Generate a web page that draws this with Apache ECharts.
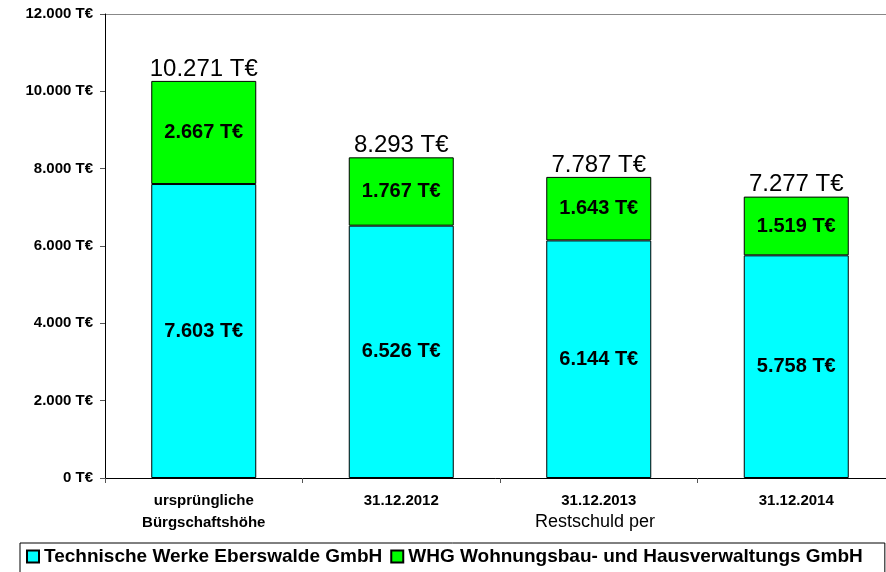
<!DOCTYPE html>
<html>
<head>
<meta charset="utf-8">
<script src="https://cdn.jsdelivr.net/npm/echarts@6/dist/echarts.min.js"></script>
<style>
  html, body { margin: 0; padding: 0; background: #fff; }
  #chart { width: 886px; height: 572px; }
</style>
</head>
<body>
<div id="chart"></div>
<script>
var categories = ['ursprüngliche\nBürgschaftshöhe', '31.12.2012', '31.12.2013', '31.12.2014'];
var twe = [7603, 6526, 6144, 5758];
var whg = [2667, 1767, 1643, 1519];
var totals = [10271, 8293, 7787, 7277];
var seriesNames = ['Technische Werke Eberswalde GmbH', 'WHG Wohnungsbau- und Hausverwaltungs GmbH'];

// 10271 -> "10.271"
function fmt(v) {
  return String(v).replace(/\B(?=(\d{3})+(?!\d))/g, '.');
}

var font = 'Arial, "Liberation Sans", sans-serif';

var option = {
  animation: false,
  textStyle: { fontFamily: font },
  grid: {
    left: 105, top: 14, width: 790, height: 464,
    outerBoundsMode: 'none'
  },
  legend: {
    data: seriesNames,
    left: 20, top: 543,
    padding: [4, 22, 12, 6],
    borderColor: '#000', borderWidth: 1,
    itemWidth: 12, itemHeight: 12, itemGap: 8,
    icon: 'rect',
    textStyle: { fontFamily: font, fontSize: 19, fontWeight: 'bold', color: '#000' }
  },
  xAxis: {
    type: 'category',
    data: categories,
    name: 'Restschuld per',
    nameLocation: 'middle',
    nameGap: 35,
    nameMoveOverlap: false,
    nameTextStyle: { fontFamily: font, fontSize: 18, color: '#000', padding: [0, 0, 0, 190] },
    axisLine: { lineStyle: { color: '#000', width: 1 } },
    axisTick: { show: true, length: 5, lineStyle: { color: '#555' } },
    axisLabel: {
      fontFamily: font, fontSize: 15, fontWeight: 'bold', color: '#000',
      margin: 12, lineHeight: 22
    }
  },
  yAxis: {
    type: 'value',
    min: 0, max: 12000, interval: 2000,
    axisLine: { show: true, lineStyle: { color: '#000', width: 1 } },
    axisTick: { show: true, length: 5, lineStyle: { color: '#555' } },
    // only the top line (12.000) is drawn, in grey
    splitLine: {
      show: true,
      lineStyle: { color: ['transparent', 'transparent', 'transparent', 'transparent', 'transparent', 'transparent', '#888'], width: 1 }
    },
    axisLabel: {
      fontFamily: font, fontSize: 15, fontWeight: 'bold', color: '#000', margin: 12,
      formatter: function (v) { return fmt(v) + ' T€'; }
    }
  },
  series: [
    {
      name: seriesNames[0],
      type: 'bar',
      stack: 'a',
      barWidth: 105,
      data: twe,
      itemStyle: { color: '#00FFFF', borderColor: '#000', borderWidth: 1 },
      label: {
        show: true, position: 'inside',
        fontFamily: font, fontSize: 20, fontWeight: 'bold', color: '#000',
        formatter: function (p) { return fmt(p.value) + ' T€'; }
      }
    },
    {
      name: seriesNames[1],
      type: 'bar',
      stack: 'a',
      barWidth: 105,
      data: whg,
      itemStyle: { color: '#00FF00', borderColor: '#000', borderWidth: 1 },
      label: {
        show: true, position: 'inside',
        fontFamily: font, fontSize: 20, fontWeight: 'bold', color: '#000',
        formatter: function (p) { return fmt(p.value) + ' T€'; }
      }
    },
    {
      name: 'Summe',
      type: 'bar',
      stack: 'a',
      barWidth: 105,
      data: [0, 0, 0, 0],
      itemStyle: { color: 'transparent', borderWidth: 0 },
      label: {
        show: true, position: 'top', distance: 0,
        fontFamily: font, fontSize: 24, color: '#000',
        formatter: function (p) { return fmt(totals[p.dataIndex]) + ' T€'; }
      }
    }
  ]
};

var chart = echarts.init(document.getElementById('chart'));
chart.setOption(option);
</script>
</body>
</html>
